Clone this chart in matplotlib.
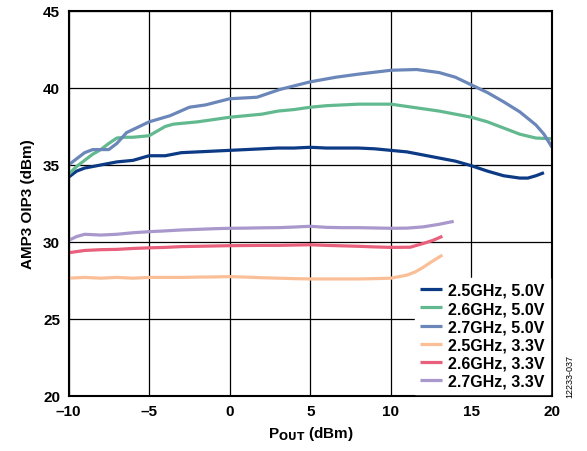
import matplotlib
matplotlib.use("Agg")
import matplotlib.pyplot as plt
import numpy as np

plt.rcParams['font.family'] = ['Liberation Sans', 'DejaVu Sans']

# AMP3 OIP3 vs POUT
x_25_50 = [-10, -9.5, -9, -8, -7, -6, -5, -4, -3, -2, -1, 0, 1, 2, 3, 4, 5, 6, 7, 8, 9, 10,
           11, 12, 13, 14, 15, 16, 17, 18, 18.5, 19, 19.5]
y_25_50 = [34.2, 34.6, 34.8, 35.0, 35.2, 35.3, 35.6, 35.6, 35.8, 35.85, 35.9, 35.95, 36.0, 36.05,
           36.1, 36.1, 36.15, 36.1, 36.1, 36.1, 36.05, 35.95, 35.85, 35.65, 35.45, 35.25, 34.95,
           34.6, 34.3, 34.15, 34.15, 34.3, 34.5]

x_26_50 = [-10, -9.5, -9, -8.5, -8, -7.5, -7, -6.5, -6, -5, -4.5, -4, -3.5, -3, -2, -1, 0, 1, 2,
           3, 4, 5, 6, 7, 8, 9, 10, 11, 12, 13, 14, 15, 16, 17, 18, 19, 20]
y_26_50 = [34.4, 34.9, 35.3, 35.7, 36.0, 36.4, 36.75, 36.8, 36.8, 36.9, 37.2, 37.5, 37.65, 37.7,
           37.8, 37.95, 38.1, 38.2, 38.3, 38.5, 38.6, 38.75, 38.85, 38.9, 38.95, 38.95, 38.95,
           38.8, 38.65, 38.5, 38.3, 38.1, 37.8, 37.4, 37.0, 36.75, 36.7]

x_27_50 = [-10, -9.5, -9, -8.5, -7.5, -7, -6.4, -5, -3.7, -2.5, -1.5, 0, 1.7, 3.1, 5, 6.6, 8,
           10, 11.6, 13, 14, 15, 16, 17, 18, 19, 19.5, 20]
y_27_50 = [35.0, 35.4, 35.8, 36.0, 36.0, 36.4, 37.1, 37.8, 38.2, 38.75, 38.9, 39.3, 39.4, 39.9,
           40.4, 40.7, 40.9, 41.15, 41.2, 41.0, 40.7, 40.2, 39.7, 39.1, 38.45, 37.6, 37.0, 36.15]

x_25_33 = [-10, -9, -8, -7, -6, -5, -4, -3, -2, -1, 0, 1, 2, 3, 4, 5, 6, 7, 8, 9, 10, 11, 11.5,
           12, 12.5, 13.2]
y_25_33 = [27.65, 27.7, 27.65, 27.7, 27.65, 27.7, 27.7, 27.7, 27.72, 27.73, 27.75, 27.72, 27.68,
           27.65, 27.62, 27.6, 27.6, 27.6, 27.6, 27.62, 27.65, 27.85, 28.05, 28.35, 28.7, 29.15]

x_26_33 = [-10, -9, -8, -7, -6, -5, -4, -3, -2, -1, 0, 1, 2, 3, 4, 5, 6, 7, 8, 9, 10, 11.2, 12,
           12.6, 13.2]
y_26_33 = [29.3, 29.45, 29.5, 29.52, 29.58, 29.62, 29.65, 29.7, 29.72, 29.74, 29.76, 29.77,
           29.78, 29.78, 29.8, 29.82, 29.78, 29.75, 29.72, 29.68, 29.65, 29.66, 29.9, 30.1, 30.37]

x_27_33 = [-10, -9.5, -9, -8, -7, -6, -5, -4, -3, -2, -1, 0, 1, 2, 3, 4, 5, 6, 7, 8, 9, 10, 11,
           12, 13, 13.9]
y_27_33 = [30.1, 30.35, 30.5, 30.45, 30.5, 30.6, 30.67, 30.72, 30.78, 30.82, 30.86, 30.89,
           30.9, 30.92, 30.93, 30.97, 31.02, 30.95, 30.93, 30.93, 30.91, 30.89, 30.9, 30.98,
           31.15, 31.34]

series = [
    (x_25_50, y_25_50, '2.5GHz, 5.0V', '#0c3a84'),
    (x_26_50, y_26_50, '2.6GHz, 5.0V', '#63b98f'),
    (x_27_50, y_27_50, '2.7GHz, 5.0V', '#6b87ba'),
    (x_25_33, y_25_33, '2.5GHz, 3.3V', '#fbbf98'),
    (x_26_33, y_26_33, '2.6GHz, 3.3V', '#e8607c'),
    (x_27_33, y_27_33, '2.7GHz, 3.3V', '#a898cc'),
]

fig = plt.figure(figsize=(5.87, 4.52), dpi=100)
ax = fig.add_axes([0.1167, 0.1217, 0.8237, 0.8518])

for xs, ys, lab, col in series:
    ax.plot(xs, ys, color=col, lw=2.3, label=lab, solid_capstyle='butt')

ax.set_xlim(-10, 20)
ax.set_ylim(20, 45)
ax.set_xticks(np.arange(-10, 21, 5))
ax.set_yticks(np.arange(20, 46, 5))
ax.set_xticklabels(['\u201310', '\u20135', '0', '5', '10', '15', '20'])
ax.grid(True, color='black', lw=0.9)
ax.tick_params(direction='in', length=0, labelsize=11, pad=6)
for lbl in ax.get_xticklabels() + ax.get_yticklabels():
    lbl.set_fontweight('bold')
for sp in ax.spines.values():
    sp.set_linewidth(1.5)

ax.set_xlabel('P$_{\\mathbf{OUT}}$ (dBm)', fontsize=11, fontweight='bold', labelpad=4)
ax.set_ylabel('AMP3 OIP3 (dBm)', fontsize=11, fontweight='bold', labelpad=6)

leg = ax.legend(loc='lower right', fontsize=11.5, frameon=True, fancybox=False,
                handlelength=1.4, handletextpad=0.4, labelspacing=0.2,
                borderaxespad=0.15, borderpad=0.3)
leg.get_frame().set_edgecolor('white')
leg.get_frame().set_alpha(1.0)
for t in leg.get_texts():
    t.set_fontweight('bold')

fig.text(0.97, 0.12, '12233-037', rotation=90, fontsize=6.5, ha='center', va='bottom')

fig.savefig('out.png', dpi=100)
